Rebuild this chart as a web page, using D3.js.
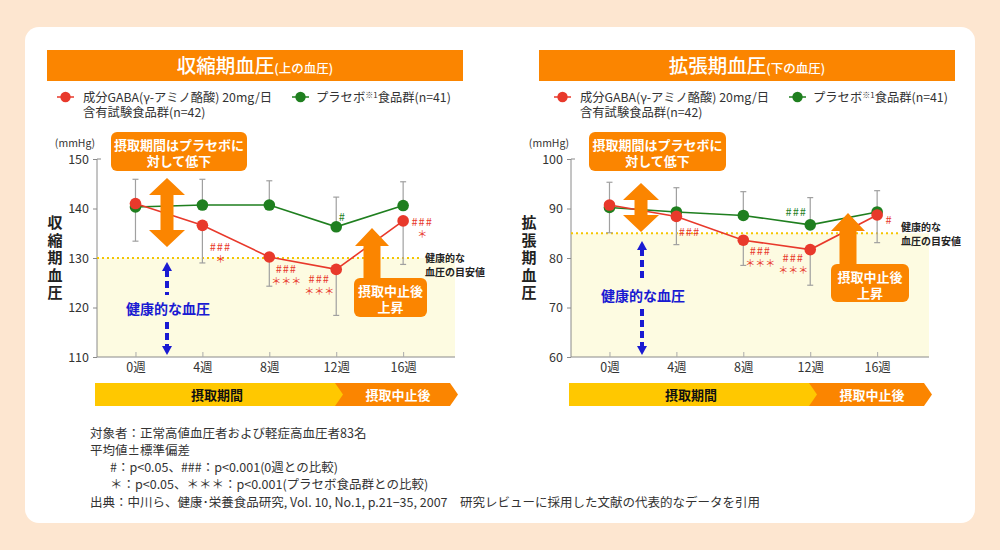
<!DOCTYPE html>
<html><head><meta charset="utf-8">
<script src="https://cdn.jsdelivr.net/npm/d3@7/dist/d3.min.js"></script>
<style>
html,body{margin:0;padding:0;background:#fde6d0;}
svg{display:block;font-family:"Noto Sans CJK JP","Noto Sans",sans-serif;}
</style></head>
<body>
<svg id="chart" width="1000" height="550"></svg>
<script>
// ---- data ----
const weeks = [0, 4, 8, 12, 16];
const weekLabels = ["0週", "4週", "8週", "12週", "16週"];

const sysGaba = [141.0, 136.6, 130.2, 127.7, 137.5];
const sysGabaSD = [7.6, 7.6, 5.9, 9.3, 8.8];
const sysPlacebo = [140.3, 140.7, 140.7, 136.3, 140.6];
const sysPlaceboSD = [5.6, 5.2, 4.9, 6.0, 4.8];
const sysTicks = [110, 120, 130, 140, 150];
const sysTarget = 130;

const diaGaba = [90.7, 88.4, 83.6, 81.7, 88.7];
const diaGabaSD = [5.6, 5.7, 5.1, 7.2, 5.6];
const diaPlacebo = [90.2, 89.3, 88.6, 86.7, 89.3];
const diaPlaceboSD = [5.1, 4.9, 4.8, 5.5, 4.3];
const diaTicks = [60, 70, 80, 90, 100];
const diaTarget = 85;

const sysGabaMarks = [null, ["###", "＊"], ["###", "＊＊＊"], ["###", "＊＊＊"], ["###", "＊"]];
const sysPlaceboMarks = [null, null, null, ["#"], null];
const diaGabaMarks = [null, ["###"], ["###", "＊＊＊"], ["###", "＊＊＊"], ["#"]];
const diaPlaceboMarks = [null, null, null, ["###"], null];

const phaseLabels = ["摂取期間", "摂取中止後"];
const legendGaba = ["成分GABA(γ-アミノ酪酸) 20mg/日", "含有試験食品群(n=42)"];
const footnotes = [
  "対象者：正常高値血圧者および軽症高血圧者83名",
  "平均値±標準偏差",
  "#：p<0.05、###：p<0.001(0週との比較)",
  "＊：p<0.05、＊＊＊：p<0.001(プラセボ食品群との比較)",
  "出典：中川ら、健康･栄養食品研究, Vol. 10, No.1, p.21−35, 2007　研究レビューに採用した文献の代表的なデータを引用"
];

// ---- styles ----
const ORANGE = "#fb8500", YELLOW = "#ffc800", RED = "#e8392b", GREEN = "#1f7f1f",
      BLUE = "#1a1ad2", FILL = "#fdfbe1", GRAY = "#8a8a8a", TXT = "#333";

const svg = d3.select("#chart");
svg.append("rect").attr("x", 0).attr("y", 0).attr("width", 1000).attr("height", 550).attr("fill", "#fde6d0");
svg.append("rect").attr("x", 25).attr("y", 27).attr("width", 950).attr("height", 496).attr("rx", 14).attr("fill", "#fff");

function drawPanel(cfg) {
  // header
  const hg = svg.append("g").attr("transform", `translate(${cfg.hx},0)`);
  hg.append("rect").attr("x", 47).attr("y", 50).attr("width", 416).attr("height", 31).attr("fill", ORANGE);
  const ht = hg.append("text").attr("x", 255).attr("y", 73).attr("text-anchor", "middle").attr("fill", "#fff");
  ht.append("tspan").attr("font-size", 19.5).attr("font-weight", 500).text(cfg.title);
  ht.append("tspan").attr("font-size", 12.5).attr("font-weight", 500).text(cfg.sub);

  // legend
  const lg = svg.append("g").attr("transform", `translate(${cfg.lx},0)`).attr("font-size", 12.3).attr("fill", TXT);
  lg.append("line").attr("x1", 57).attr("x2", 74).attr("y1", 97).attr("y2", 97).attr("stroke", RED).attr("stroke-width", 1.5);
  lg.append("circle").attr("cx", 65.5).attr("cy", 97).attr("r", 5.2).attr("fill", RED);
  legendGaba.forEach((t, i) => lg.append("text").attr("x", 83).attr("y", 101.5 + i * 15.5).text(t));
  lg.append("line").attr("x1", 292).attr("x2", 309).attr("y1", 97).attr("y2", 97).attr("stroke", GREEN).attr("stroke-width", 1.5);
  lg.append("circle").attr("cx", 300.5).attr("cy", 97).attr("r", 5.2).attr("fill", GREEN);
  const pt = lg.append("text").attr("x", 316).attr("y", 101.5);
  pt.append("tspan").text("プラセボ");
  pt.append("tspan").attr("font-size", 8).attr("dy", -4).text("※1");
  pt.append("tspan").attr("dy", 4).text("食品群(n=41)");

  const g = svg.append("g").attr("transform", `translate(${cfg.dx},0)`);
  const X0 = 97, X1 = 455, Y0 = 357, Y1 = 159;

  // scales
  const x = d3.scaleLinear().domain([-2.3, 19.1]).range([X0, X1]);
  const y = d3.scaleLinear().domain([cfg.ticks[0], cfg.ticks[cfg.ticks.length - 1]]).range([Y0, Y1]);

  // healthy fill
  g.append("rect").attr("x", X0).attr("y", y(cfg.target)).attr("width", X1 - X0).attr("height", Y0 - y(cfg.target)).attr("fill", FILL);

  // axes
  const ya = g.append("g").attr("transform", `translate(${X0},0)`)
    .call(d3.axisLeft(y).tickValues(cfg.ticks).tickSize(4).tickPadding(4));
  ya.select(".domain").attr("stroke", GRAY).attr("d", `M0,${Y1}V${Y0}`);
  ya.selectAll(".tick line").attr("stroke", GRAY);
  ya.selectAll(".tick text").attr("font-size", 12.5).attr("fill", TXT).attr("font-family", "'Noto Sans CJK JP',sans-serif");
  g.append("line").attr("x1", X0).attr("x2", X0 + 4).attr("y1", Y1).attr("y2", Y1).attr("stroke", GRAY);

  const xa = g.append("g").attr("transform", `translate(0,${Y0})`)
    .call(d3.axisBottom(x).tickValues(weeks).tickFormat((d, i) => weekLabels[i]).tickSize(-5).tickPadding(6));
  xa.select(".domain").attr("stroke", GRAY).attr("d", `M${X0},0H${X1}`);
  xa.selectAll(".tick line").attr("stroke", "#aaa");
  xa.selectAll(".tick text").attr("font-size", 12.5).attr("fill", TXT).attr("font-family", "'Noto Sans CJK JP',sans-serif");

  // mmHg and y title
  g.append("text").attr("x", 75).attr("y", 147).attr("text-anchor", "middle").attr("font-size", 10.5).attr("fill", TXT).text("(mmHg)");
  Array.from(cfg.ytitle).forEach((c, i) => g.append("text").attr("x", 55).attr("y", 228 + i * 17.5)
    .attr("text-anchor", "middle").attr("font-size", 15).attr("font-weight", "bold").attr("fill", "#222").text(c));

  // target dotted line and label
  g.append("line").attr("x1", X0).attr("x2", cfg.dotEnd).attr("y1", y(cfg.target)).attr("y2", y(cfg.target))
    .attr("stroke", "#f5c500").attr("stroke-width", 2).attr("stroke-dasharray", "2,3");
  ["健康的な", "血圧の目安値"].forEach((t, i) => g.append("text").attr("x", cfg.dotEnd + 3)
    .attr("y", y(cfg.target) + cfg.tgtDy + i * 13.5).attr("font-size", 10).attr("font-weight", "bold").attr("fill", "#222").text(t));

  // error bars
  const eb = g.append("g").attr("stroke", "#a0a0a0").attr("stroke-width", 1.2);
  weeks.forEach((w, i) => {
    const cx = x(w);
    const top = y(cfg.placebo[i] + cfg.placeboSD[i]), bot = y(cfg.gaba[i] - cfg.gabaSD[i]);
    eb.append("line").attr("x1", cx).attr("x2", cx).attr("y1", top).attr("y2", y(cfg.placebo[i]));
    eb.append("line").attr("x1", cx).attr("x2", cx).attr("y1", y(cfg.gaba[i])).attr("y2", bot);
    eb.append("line").attr("x1", cx - 3).attr("x2", cx + 3).attr("y1", top).attr("y2", top);
    eb.append("line").attr("x1", cx - 3).attr("x2", cx + 3).attr("y1", bot).attr("y2", bot);
  });

  // lines
  const line = d3.line().x((d, i) => x(weeks[i])).y(d => y(d));
  g.append("path").datum(cfg.placebo).attr("d", line).attr("fill", "none").attr("stroke", GREEN).attr("stroke-width", 1.6);
  g.append("path").datum(cfg.gaba).attr("d", line).attr("fill", "none").attr("stroke", RED).attr("stroke-width", 1.6);
  g.selectAll(".pp").data(cfg.placebo).join("circle").attr("cx", (d, i) => x(weeks[i])).attr("cy", d => y(d)).attr("r", 5.8).attr("fill", GREEN);
  g.selectAll(".gp").data(cfg.gaba).join("circle").attr("cx", (d, i) => x(weeks[i])).attr("cy", d => y(d)).attr("r", 5.8).attr("fill", RED);

  // significance marks
  function marks(arr, vals, offs, color) {
    arr.forEach((m, i) => {
      if (!m) return;
      const o = offs[i];
      m.forEach((t, j) => g.append("text").attr("x", x(weeks[i]) + o[0]).attr("y", y(vals[i]) + o[1] + j * 12)
        .attr("text-anchor", "middle").attr("font-size", t.includes("＊") ? 10 : 11)
        .attr("letter-spacing", t.includes("＊") ? 0 : 1).attr("fill", color).text(t));
    });
  }
  marks(cfg.gabaMarks, cfg.gaba, cfg.gabaOff, RED);
  marks(cfg.placeboMarks, cfg.placebo, cfg.placeboOff, GREEN);

  // callout box top
  const cb = cfg.callout;
  g.append("rect").attr("x", cb[0]).attr("y", 132).attr("width", cb[1]).attr("height", 39).attr("rx", 6).attr("fill", ORANGE);
  ["摂取期間はプラセボに", "対して低下"].forEach((t, i) => g.append("text").attr("x", cb[0] + cb[1] / 2).attr("y", 149.5 + i * 16)
    .attr("text-anchor", "middle").attr("font-size", 13).attr("font-weight", "bold").attr("fill", "#fff").text(t));

  // double arrow
  const da = cfg.dArrow; // cx, y1, y2
  const hw = 18, hl = 17, sw = 6.5;
  g.append("path").attr("fill", ORANGE).attr("d",
    `M${da[0]},${da[1]}L${da[0] + hw},${da[1] + hl}L${da[0] + sw},${da[1] + hl}L${da[0] + sw},${da[2] - hl}L${da[0] + hw},${da[2] - hl}` +
    `L${da[0]},${da[2]}L${da[0] - hw},${da[2] - hl}L${da[0] - sw},${da[2] - hl}L${da[0] - sw},${da[1] + hl}L${da[0] - hw},${da[1] + hl}Z`);

  // blue arrow + label
  const ba = cfg.bArrow; // cx, ytop, ytext, ybot
  g.append("line").attr("x1", ba[0]).attr("x2", ba[0]).attr("y1", ba[1] + 8).attr("y2", ba[2] - 14)
    .attr("stroke", BLUE).attr("stroke-width", 4).attr("stroke-dasharray", "7,4");
  g.append("line").attr("x1", ba[0]).attr("x2", ba[0]).attr("y1", ba[2] + 13).attr("y2", ba[3] - 8)
    .attr("stroke", BLUE).attr("stroke-width", 4).attr("stroke-dasharray", "7,4");
  g.append("path").attr("fill", BLUE).attr("d", `M${ba[0]},${ba[1]}L${ba[0] + 5},${ba[1] + 9}L${ba[0] - 5},${ba[1] + 9}Z`);
  g.append("path").attr("fill", BLUE).attr("d", `M${ba[0]},${ba[3]}L${ba[0] + 5},${ba[3] - 9}L${ba[0] - 5},${ba[3] - 9}Z`);
  g.append("text").attr("x", ba[0] + 1).attr("y", ba[2] + 5).attr("text-anchor", "middle").attr("font-size", 14)
    .attr("font-weight", "bold").attr("fill", BLUE).text("健康的な血圧");

  // up arrow + box
  const ua = cfg.uArrow; // cx, tip, boxX, boxY, boxW, boxH
  const uhw = 17, uhl = 18, usw = 8.5;
  g.append("path").attr("fill", ORANGE).attr("d",
    `M${ua[0]},${ua[1]}L${ua[0] + uhw},${ua[1] + uhl}L${ua[0] + usw},${ua[1] + uhl}L${ua[0] + usw},${ua[3] + 2}` +
    `L${ua[0] - usw},${ua[3] + 2}L${ua[0] - usw},${ua[1] + uhl}L${ua[0] - uhw},${ua[1] + uhl}Z`);
  g.append("rect").attr("x", ua[2]).attr("y", ua[3]).attr("width", ua[4]).attr("height", ua[5]).attr("rx", 6).attr("fill", ORANGE);
  ["摂取中止後", "上昇"].forEach((t, i) => g.append("text").attr("x", ua[2] + ua[4] / 2).attr("y", ua[3] + 18 + i * 16)
    .attr("text-anchor", "middle").attr("font-size", 13).attr("font-weight", "bold").attr("fill", "#fff").text(t));

  // phase bar
  const by = 383, bh = 23, bx0 = 95, bmid = 335, bend = 450, ch = 8;
  g.append("path").attr("fill", ORANGE).attr("d",
    `M${bmid},${by}H${bend}L${bend + ch},${by + bh / 2}L${bend},${by + bh}H${bmid}Z`);
  g.append("path").attr("fill", YELLOW).attr("d",
    `M${bx0},${by}H${bmid}L${bmid + ch},${by + bh / 2}L${bmid},${by + bh}H${bx0}Z`);
  g.append("text").attr("x", 217).attr("y", by + 16.5).attr("text-anchor", "middle").attr("font-size", 13)
    .attr("font-weight", "bold").attr("fill", "#111").text(phaseLabels[0]);
  g.append("text").attr("x", 398).attr("y", by + 16.5).attr("text-anchor", "middle").attr("font-size", 13)
    .attr("font-weight", "bold").attr("fill", "#fff").text(phaseLabels[1]);
}

drawPanel({
  dx: 0, hx: 0, lx: 0, title: "収縮期血圧", sub: "(上の血圧)", ytitle: "収縮期血圧",
  ticks: sysTicks, target: sysTarget, gaba: sysGaba, gabaSD: sysGabaSD, placebo: sysPlacebo, placeboSD: sysPlaceboSD,
  gabaMarks: sysGabaMarks, placeboMarks: sysPlaceboMarks,
  gabaOff: [null, [18, 26], [17, 16], [-17, 14], [19, 5]],
  placeboOff: [null, null, null, [6, -6], null],
  dotEnd: 422, tgtDy: 4,
  callout: [111, 136], dArrow: [167, 178, 247], bArrow: [167, 262, 309, 355],
  uArrow: [372, 228, 354, 278, 73, 39]
});
drawPanel({
  dx: 474, hx: 492, lx: 497, title: "拡張期血圧", sub: "(下の血圧)", ytitle: "拡張期血圧",
  ticks: diaTicks, target: diaTarget, gaba: diaGaba, gabaSD: diaGabaSD, placebo: diaPlacebo, placeboSD: diaPlaceboSD,
  gabaMarks: diaGabaMarks, placeboMarks: diaPlaceboMarks,
  gabaOff: [null, [13, 20], [17, 15], [-17, 12], [12, 9]],
  placeboOff: [null, null, null, [-14, -9], null],
  dotEnd: 424, tgtDy: -2,
  callout: [115, 137], dArrow: [167, 183, 232], bArrow: [168, 241, 296, 355],
  uArrow: [374, 213, 357, 264, 78, 38]
});

// footnotes
const fn = svg.append("g").attr("font-size", 12.5).attr("fill", TXT);
footnotes.forEach((t, i) => fn.append("text").attr("x", (i === 2 || i === 3) ? 110 : 90).attr("y", 437.5 + i * 17.3).text(t));
</script>
</body></html>
